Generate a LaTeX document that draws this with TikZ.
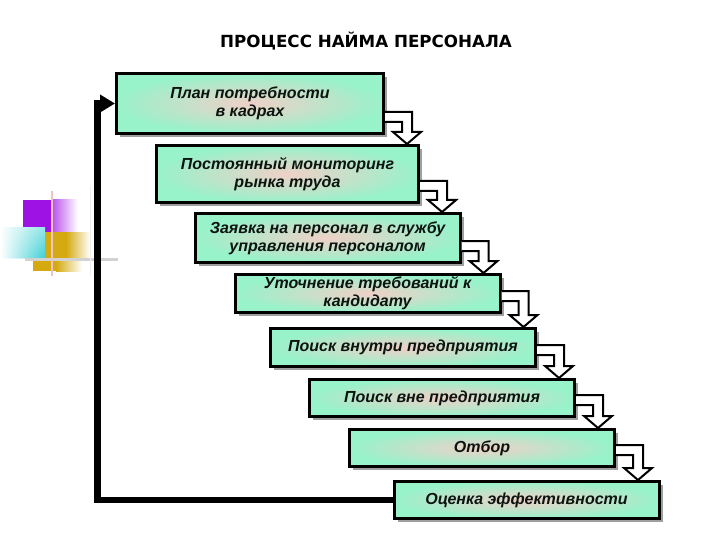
\documentclass[tikz,border=0pt]{standalone}
\usepackage{fontspec}
\setmainfont{Liberation Sans}
\newfontfamily\titlefont{DejaVu Sans}
\usetikzlibrary{calc,arrows.meta,shadows,fadings}
\definecolor{mint}{RGB}{152,242,202}
\definecolor{pinkc}{RGB}{240,208,200}
\definecolor{txt}{RGB}{12,20,16}
\definecolor{purp}{RGB}{158,18,228}
\definecolor{cyanc}{RGB}{60,208,212}
\definecolor{goldc}{RGB}{212,170,16}
\definecolor{pinkline}{RGB}{240,196,190}
\newcommand{\hollowconn}[2]{%
  \filldraw[hollow] let \p1=(#1.south east), \p2=(#2.north) in
   (\x1,\y1+23) -- (\x1+27,\y1+23) -- (\x1+27,\y2+12) -- (\x1+36,\y2+12)
   -- (\x1+22,\y2) -- (\x1+8,\y2+12) -- (\x1+17,\y2+12) -- (\x1+17,\y1+13) -- (\x1,\y1+13);}
\begin{document}
\begin{tikzpicture}[x=1pt,y=1pt,
  box/.style={draw=black, line width=3pt, shading=radial, inner color=pinkc, outer color=mint,
    minimum width=265pt, align=center, inner sep=0pt, text=txt,
    font=\fontsize{16}{18}\selectfont\bfseries\itshape,
    drop shadow={shadow xshift=3.5pt, shadow yshift=-3.5pt, fill=gray!75, opacity=1}},
  hollow/.style={draw=black, fill=white, line width=2pt, line join=miter},
  feedback/.style={draw=black, line width=6.5pt, -{Triangle[length=15pt,width=17pt]}},
  title/.style={font=\titlefont\fontsize{16.7}{19}\selectfont\bfseries, text=black}]
\useasboundingbox (0,0) rectangle (720,-540);
\fill[white] (0,0) rectangle (720,-540);

% decoration at left
\fill[purp] (23,-200) rectangle (53,-232);
\shade[left color=purp!70, right color=white] (53,-200) rectangle (78,-232);
\shade[left color=white, right color=cyanc!55] (0,-228) rectangle (45,-258);
\shade[left color=white, right color=cyanc, path fading=north] (0,-228) rectangle (45,-258);
\fill[goldc] (45,-232) rectangle (66,-258);
\shade[left color=goldc, right color=white] (66,-232) rectangle (90,-258);
\draw[gray!35, line width=3pt] (25,-259) -- (118,-259);
\fill[goldc] (33,-261) rectangle (56,-271);
\shade[left color=goldc, right color=white] (56,-261) rectangle (82,-271);
\draw[pinkline, line width=2.5pt] (52,-191) -- (52,-276);
\draw[gray!12, line width=1pt] (90,-186) -- (90,-276);

% title
\node[title] (t) at (366,-41) {ПРОЦЕСС НАЙМА ПЕРСОНАЛА};

% boxes
\node[box, minimum width=267pt, minimum height=60pt] (b1) at (250,-103.5) {План потребности\\в кадрах};
\node[box, minimum width=262pt, minimum height=57pt] (b2) at (287.5,-174) {Постоянный мониторинг\\рынка труда};
\node[box, minimum height=49pt] (b3) at (327.5,-238) {Заявка на персонал в службу\\управления персоналом};
\node[box, minimum height=38pt] (b4) at (367.5,-293.5) {Уточнение требований к\\кандидату};
\node[box, minimum height=38pt] (b5) at (403,-347.5) {Поиск внутри предприятия};
\node[box, minimum height=37pt] (b6) at (442,-398) {Поиск вне предприятия};
\node[box, minimum height=37pt] (b7) at (482,-448) {Отбор};
\node[box, minimum height=37pt] (b8) at (526.5,-500) {Оценка эффективности};

% connectors
\hollowconn{b1}{b2}
\hollowconn{b2}{b3}
\hollowconn{b3}{b4}
\hollowconn{b4}{b5}
\hollowconn{b5}{b6}
\hollowconn{b6}{b7}
\hollowconn{b7}{b8}

% feedback
\coordinate (fb) at ($(b1.west)+(-17.5,0)$);
\draw[feedback] (b8.west) -| (fb) -- (b1.west);
\end{tikzpicture}
\end{document}
